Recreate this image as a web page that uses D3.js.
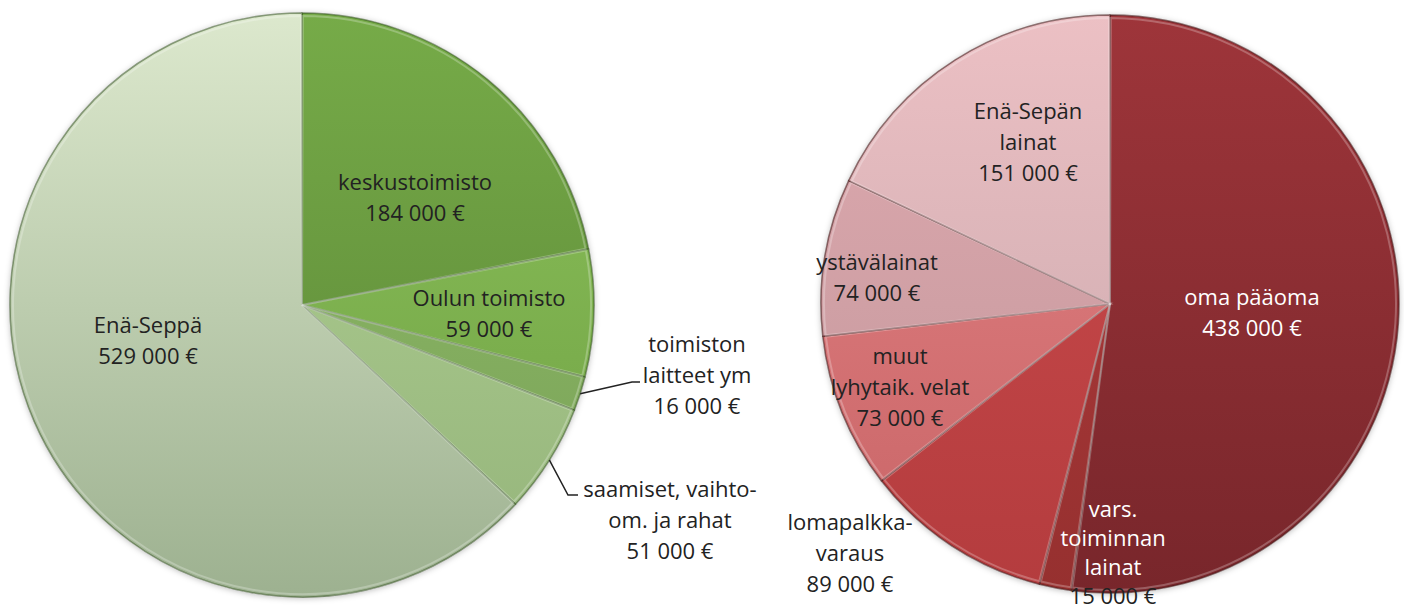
<!DOCTYPE html>
<html>
<head>
<meta charset="utf-8">
<script src="https://cdn.jsdelivr.net/npm/d3@7"></script>
<style>
  body { margin: 0; background: #fff; }
  svg text { font-family: "Open Sans", sans-serif; font-size: 22px; }
</style>
</head>
<body>
<div id="chart"></div>
<script>
// data: assets (left) and liabilities (right)
var assetLabels = [["keskustoimisto"], ["Oulun toimisto"], ["toimiston", "laitteet ym"], ["saamiset, vaihto-", "om. ja rahat"], ["Enä-Seppä"]];
var assetValues = [184000, 59000, 16000, 51000, 529000];
var assetTop = ["#76ab48", "#8cc25a", "#93be6c", "#b3d296", "#dce8cd"];
var assetBottom = ["#5a8436", "#6fa044", "#77a055", "#94b47a", "#9db190"];

var debtLabels = [["oma pääoma"], ["vars.", "toiminnan", "lainat"], ["lomapalkka-", "varaus"], ["muut", "lyhytaik. velat"], ["ystävälainat"], ["Enä-Sepän", "lainat"]];
var debtValues = [438000, 15000, 89000, 73000, 74000, 151000];
var debtTop = ["#9e353a", "#b03c3e", "#cc4c4d", "#e48486", "#e0aab0", "#ecc0c4"];
var debtBottom = ["#78262b", "#96302f", "#b43c3e", "#c86466", "#c0969a", "#c6a6aa"];

var W = 1404, H = 610;

var svg = d3.select("#chart").append("svg")
  .attr("width", W)
  .attr("height", H);

var defs = svg.append("defs");
var f = defs.append("filter").attr("id", "shadow")
  .attr("x", "-10%").attr("y", "-10%").attr("width", "120%").attr("height", "120%");
f.append("feDropShadow").attr("dx", 0).attr("dy", 1).attr("stdDeviation", 3)
  .attr("flood-color", "#000").attr("flood-opacity", 0.3);

var fmt = function(v) { return d3.format(",")(v).replace(/,/g, " ") + " €"; };

// label block centres relative to the pie centre, outside labels get a leader elbow
var assetLayout = [
  {dx: 113, dy: -108},
  {dx: 187, dy: 8},
  {dx: 395, dy: 70, elbow: [[330, 77], [338, 77]]},
  {dx: 368, dy: 215, elbow: [[266, 190], [276, 190]]},
  {dx: -154, dy: 35}
];
var debtLayout = [
  {dx: 142, dy: 8, color: "#fff"},
  {dx: 3, dy: 248, color: "#fff", spacing: 29},
  {dx: -260, dy: 249},
  {dx: -210, dy: 83},
  {dx: -233, dy: -27},
  {dx: -82, dy: -162}
];

function drawPie(id, cx, cy, r, labels, values, top, bottom, layout, strokeColor) {
  var g = svg.append("g").attr("transform", "translate(" + cx + "," + cy + ")");

  var pie = d3.pie().sort(null).value(function(d) { return d; });
  var arcs = pie(values);
  var arc = d3.arc().innerRadius(0).outerRadius(r);
  var edge = d3.arc().innerRadius(r).outerRadius(r);

  values.forEach(function(v, i) {
    var lg = defs.append("linearGradient").attr("id", id + i)
      .attr("gradientUnits", "userSpaceOnUse")
      .attr("x1", 0).attr("y1", -r).attr("x2", 0).attr("y2", r);
    lg.append("stop").attr("offset", "0%").attr("stop-color", top[i]);
    lg.append("stop").attr("offset", "100%").attr("stop-color", bottom[i]);
  });

  g.append("circle").attr("r", r).attr("fill", "#fff").attr("filter", "url(#shadow)");

  g.selectAll("path.slice")
    .data(arcs)
    .enter()
    .append("path")
    .attr("class", "slice")
    .attr("d", arc)
    .attr("fill", function(d, i) { return "url(#" + id + i + ")"; })
    .attr("stroke", strokeColor)
    .attr("stroke-width", 1.5)
    .attr("stroke-linejoin", "round");

  // soft highlight along slice edges
  g.selectAll("path.hl")
    .data(arcs)
    .enter()
    .append("path")
    .attr("class", "hl")
    .attr("d", d3.arc().innerRadius(0).outerRadius(r - 3).padAngle(0.006))
    .attr("fill", "none")
    .attr("stroke", "rgba(255,255,255,0.25)")
    .attr("stroke-width", 2);

  arcs.forEach(function(d, i) {
    var L = layout[i];
    var lines = labels[i].concat([fmt(values[i])]);
    var sp = L.spacing || 31;
    var t = g.append("text")
      .attr("text-anchor", "middle")
      .attr("fill", L.color || "#222");
    lines.forEach(function(s, k) {
      t.append("tspan")
        .attr("x", L.dx)
        .attr("y", L.dy + (k - (lines.length - 1) / 2) * sp + 8)
        .attr("fill", (L.color && k < lines.length - 1) || (L.color && lines.length == 2) ? L.color : "#222")
        .text(s);
    });
    if (L.elbow) {
      var p = edge.centroid(d);
      var pts = [p].concat(L.elbow);
      g.append("path")
        .attr("d", d3.line()(pts))
        .attr("fill", "none")
        .attr("stroke", "#222")
        .attr("stroke-width", 1.5);
    }
  });
}

drawPie("ga", 302, 305, 292, assetLabels, assetValues, assetTop, assetBottom, assetLayout, "rgba(50,80,30,0.55)");
drawPie("gd", 1110, 304, 289, debtLabels, debtValues, debtTop, debtBottom, debtLayout, "rgba(70,25,25,0.6)");
</script>
</body>
</html>
